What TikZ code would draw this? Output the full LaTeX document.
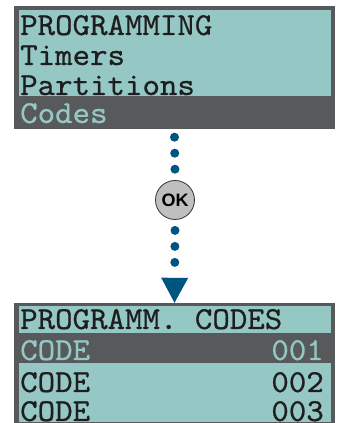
\documentclass[tikz,border=0pt]{standalone}
\usepackage{fontspec}
\newfontfamily\okfont{Liberation Sans}
\newfontfamily\lcdfont{lmmono10-regular.otf}[FakeBold=0.6, FakeStretch=1.04]
\usetikzlibrary{arrows.meta, positioning}
\definecolor{lcdteal}{RGB}{149,199,197}
\definecolor{lcddark}{RGB}{88,89,91}
\definecolor{lcdtext}{RGB}{30,30,30}
\definecolor{flowblue}{RGB}{0,85,128}

\begin{document}
\begin{tikzpicture}[
  x=1pt, y=1pt,
  font=\lcdfont\fontsize{32}{32}\selectfont,
  % Screen styles
  lcdframe/.style={
    rectangle, fill=lcddark, inner sep=0pt, minimum width=321pt
  },
  lcdpanel/.style={
    rectangle, fill=lcdteal, inner sep=0pt, minimum width=312pt
  },
  lcdrow/.style={inner sep=0pt, text=lcdtext},
  lcdsel/.style={inner sep=0pt, text=lcdteal},
  okbtn/.style={
    circle, draw=black!80, line width=0.8pt, fill=black!25,
    minimum size=39pt, inner sep=0pt,
    font=\okfont\fontsize{18}{18}\selectfont\bfseries
  },
  dotline/.style={
    flowblue, line width=9pt, line cap=round,
    dash pattern=on 0pt off 16pt
  }
]
\useasboundingbox (0,0) rectangle (342,423);

% Top screen
\node[lcdframe, minimum height=123pt] (topscr) at (174.5,355.5) {};
\node[lcdpanel, minimum height=86pt] (toppanel) at (175,370) {};
\node[lcdrow, anchor=base west] (menu) at (20,388) {PROGRAMMING};
\node[lcdrow, anchor=base west] (timers) at (20,358) {Timers};
\node[lcdrow, anchor=base west] (parts) at (20,328) {Partitions};
\node[lcdsel, anchor=base west] (codes) at (20,300) {Codes};

% OK key
\node[okbtn] (ok) at (175,223) {OK};

% Bottom screen
\node[lcdframe, minimum height=120pt] (botscr) at (174.5,60) {};
\node[lcdpanel, minimum height=27pt] (bothead) at (175,103.5) {};
\node[lcdpanel, minimum height=59pt] (botlist) at (175,30.5) {};
\node[lcdrow, anchor=base west] (title) at (20,94) {PROGRAMM. CODES};
\node[lcdsel, anchor=base west] (codeA) at (20,63) {CODE};
\node[lcdsel, anchor=base east] (numA) at (324,63) {001};
\node[lcdrow, anchor=base west] (codeB) at (20,31) {CODE};
\node[lcdrow, anchor=base east] (numB) at (324,31) {002};
\node[lcdrow, anchor=base west] (codeC) at (20,2) {CODE};
\node[lcdrow, anchor=base east] (numC) at (324,2) {003};

% Flow
\draw[dotline] ([yshift=-8pt]topscr.south) -- ([yshift=8pt]ok.north);
\draw[dotline, -{Triangle[width=27pt, length=25pt, line width=0pt]}]
  ([yshift=-10.5pt]ok.south) -- (botscr.north);

\end{tikzpicture}
\end{document}
